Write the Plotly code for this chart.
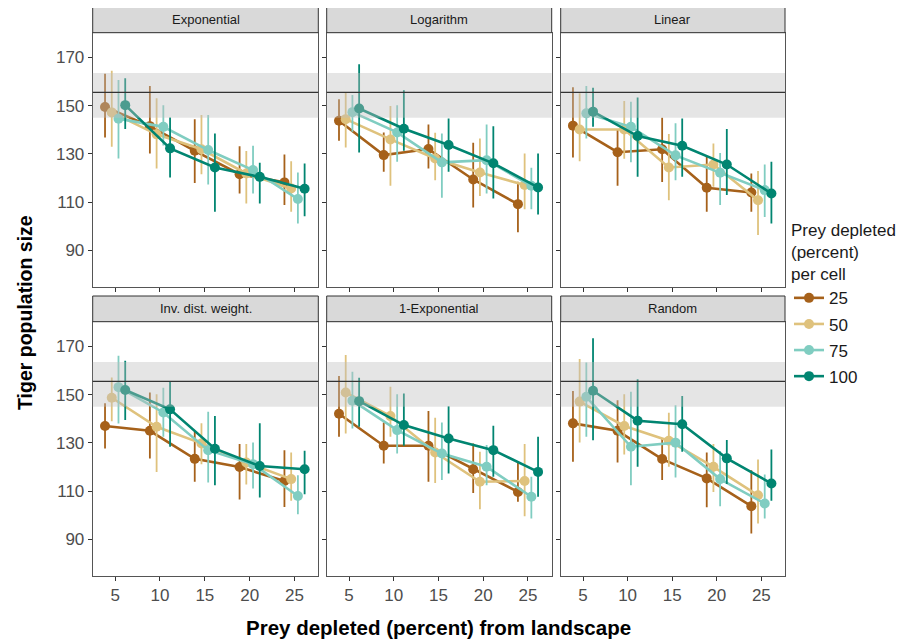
import plotly.graph_objects as go

panels = ["Exponential", "Logarithm", "Linear", "Inv. dist. weight.", "1-Exponential", "Random"]
depletion = [5, 10, 15, 20, 25]
series = ["25", "50", "75", "100"]
colors = {"25": "#a6611a", "50": "#dfc27d", "75": "#80cdc1", "100": "#018571"}

# mean, lower, upper per panel per series (5 values each)
mean = {
    "Exponential": {
        "25": [149.4, 141.5, 131.3, 121.6, 118.2],
        "50": [147.2, 138.1, 131.9, 121.9, 115.7],
        "75": [144.6, 141.2, 131.6, 123.3, 111.3],
        "100": [150.2, 132.3, 124.4, 120.5, 115.6],
    },
    "Logarithm": {
        "25": [143.7, 129.5, 132.0, 119.4, 109.2],
        "50": [144.4, 136.0, 128.1, 122.3, 117.1],
        "75": [147.3, 138.9, 126.5, 127.4, 116.8],
        "100": [148.8, 140.4, 133.7, 126.1, 116.1],
    },
    "Linear": {
        "25": [141.7, 130.7, 131.9, 116.0, 114.0],
        "50": [140.1, 140.1, 124.4, 125.6, 110.8],
        "75": [146.8, 141.2, 129.4, 122.2, 115.0],
        "100": [147.5, 137.4, 133.4, 125.6, 113.6],
    },
    "Inv. dist. weight.": {
        "25": [137.0, 135.0, 123.4, 120.0, 114.2],
        "50": [148.7, 136.7, 129.8, 121.9, 115.0],
        "75": [153.1, 142.6, 127.0, 121.2, 108.0],
        "100": [151.9, 143.9, 127.6, 120.4, 119.1],
    },
    "1-Exponential": {
        "25": [142.1, 128.8, 128.8, 119.1, 109.7],
        "50": [150.9, 141.1, 126.0, 113.9, 114.2],
        "75": [147.5, 135.3, 125.6, 120.1, 107.7],
        "100": [147.3, 137.4, 131.8, 127.0, 118.0],
    },
    "Random": {
        "25": [138.1, 135.0, 123.3, 115.3, 103.8],
        "50": [147.1, 137.0, 130.9, 120.1, 108.3],
        "75": [149.1, 128.4, 130.1, 115.0, 104.9],
        "100": [151.6, 139.2, 137.7, 123.6, 113.2],
    },
}
lower = {
    "Exponential": {
        "25": [136.8, 130.2, 118.0, 113.6, 108.8],
        "50": [133.0, 124.0, 121.6, 109.5, 106.0],
        "75": [128.1, 133.5, 117.3, 113.6, 101.2],
        "100": [140.3, 120.2, 106.0, 109.5, 104.2],
    },
    "Logarithm": {
        "25": [135.5, 122.6, 124.0, 107.8, 97.5],
        "50": [132.7, 116.8, 119.1, 112.6, 107.1],
        "75": [139.2, 126.7, 111.8, 113.6, 107.1],
        "100": [130.6, 131.3, 122.6, 111.5, 104.9],
    },
    "Linear": {
        "25": [128.5, 116.8, 118.4, 106.0, 106.0],
        "50": [127.0, 128.0, 110.8, 116.4, 96.4],
        "75": [136.4, 126.5, 119.1, 108.8, 103.9],
        "100": [141.2, 120.5, 120.5, 113.0, 101.2],
    },
    "Inv. dist. weight.": {
        "25": [127.7, 123.5, 113.9, 106.6, 103.5],
        "50": [139.0, 118.0, 121.2, 112.8, 106.0],
        "75": [138.0, 132.5, 113.6, 111.1, 100.5],
        "100": [139.5, 128.4, 112.5, 107.4, 108.7],
    },
    "1-Exponential": {
        "25": [132.5, 121.5, 113.9, 109.3, 105.6],
        "50": [133.9, 132.5, 113.4, 102.5, 99.6],
        "75": [136.0, 125.6, 114.6, 112.5, 98.7],
        "100": [136.7, 128.8, 117.3, 116.0, 107.7],
    },
    "Random": {
        "25": [122.2, 121.9, 114.6, 103.3, 92.5],
        "50": [130.2, 125.2, 120.1, 109.7, 96.6],
        "75": [132.5, 112.5, 115.7, 103.8, 98.7],
        "100": [131.1, 120.1, 126.3, 113.0, 106.0],
    },
}
upper = {
    "Exponential": {
        "25": [163.2, 158.1, 144.4, 133.2, 129.8],
        "50": [164.4, 153.0, 146.1, 131.2, 127.0],
        "75": [160.6, 150.1, 146.1, 133.4, 122.3],
        "100": [161.3, 145.1, 138.5, 126.3, 126.0],
    },
    "Logarithm": {
        "25": [152.6, 138.9, 142.2, 134.6, 118.5],
        "50": [155.5, 149.8, 138.8, 136.4, 130.2],
        "75": [154.4, 150.2, 138.5, 142.2, 124.3],
        "100": [167.1, 156.4, 144.7, 141.5, 130.2],
    },
    "Linear": {
        "25": [157.6, 140.3, 145.0, 129.1, 121.9],
        "50": [155.1, 151.9, 138.2, 134.3, 122.9],
        "75": [158.1, 151.6, 142.7, 130.4, 125.6],
        "100": [157.4, 153.4, 144.7, 140.3, 126.7],
    },
    "Inv. dist. weight.": {
        "25": [146.4, 150.9, 134.6, 129.5, 127.0],
        "50": [157.1, 150.1, 138.1, 129.5, 126.0],
        "75": [166.1, 152.8, 142.9, 130.2, 116.6],
        "100": [164.0, 155.3, 141.1, 138.1, 126.7],
    },
    "1-Exponential": {
        "25": [157.7, 138.4, 143.2, 129.8, 121.9],
        "50": [166.4, 153.3, 140.4, 126.3, 129.5],
        "75": [159.5, 150.1, 138.4, 129.1, 116.0],
        "100": [157.0, 150.5, 145.2, 137.1, 132.6],
    },
    "Random": {
        "25": [151.5, 147.7, 131.9, 126.0, 118.7],
        "50": [164.8, 150.1, 142.5, 129.5, 123.1],
        "75": [163.3, 151.2, 145.6, 126.6, 116.9],
        "100": [173.3, 156.4, 149.4, 131.2, 127.3],
    },
}
reference_band = [145.0, 163.5]
reference_line = 155.5
y_ticks = [90, 110, 130, 150, 170]

# page body has an 8px margin, so the figure is offset by 8px
OFF = 8
W, H = 912 - 2 * OFF, 641 - OFF
dodge = {"25": -1.125, "50": -0.375, "75": 0.375, "100": 1.125}
FONT = "Liberation Sans, Arial, sans-serif"

col_px = [(92.7, 318.3), (326.7, 551.7), (560.7, 785.0)]
row_px = [(32.7, 286.7), (321.7, 575.7)]
strip_h = 25.7


def fx(px):
    return (px - OFF) / W


def fy(py):
    return 1 - (py - OFF) / H


fig = go.Figure()
layout = dict(
    width=W, height=H, margin=dict(l=0, r=0, t=0, b=0),
    paper_bgcolor="white", plot_bgcolor="white",
    font=dict(family=FONT, color="#4d4d4d"),
    showlegend=True,
)
shapes, annotations = [], []

for i, name in enumerate(panels):
    r, c = divmod(i, 3)
    k = "" if i == 0 else str(i + 1)
    x0p, x1p = col_px[c]
    y0p, y1p = row_px[r]
    xd = [fx(x0p), fx(x1p)]
    yd = [fy(y1p), fy(y0p)]
    layout["xaxis" + k] = dict(
        domain=xd, anchor="y" + k, range=[2.5, 27.65],
        tickvals=depletion, ticktext=[str(v) for v in depletion],
        showticklabels=(r == 1), ticks="outside", ticklen=4, tickcolor="#333",
        showgrid=False, zeroline=False, showline=True, mirror=True,
        linecolor="#555", linewidth=1,
        tickfont=dict(size=17, color="#4d4d4d", family=FONT),
    )
    layout["yaxis" + k] = dict(
        domain=yd, anchor="x" + k, range=[75, 180.2],
        tickvals=y_ticks, showticklabels=(c == 0), ticks="outside", ticklen=4,
        tickcolor="#333", showgrid=False, zeroline=False, showline=True,
        mirror=True, linecolor="#555", linewidth=1,
        tickfont=dict(size=17, color="#4d4d4d", family=FONT),
    )
    for s in series:
        m = mean[name][s]
        lo = lower[name][s]
        hi = upper[name][s]
        fig.add_trace(go.Scatter(
            x=[d + dodge[s] for d in depletion], y=m,
            xaxis="x" + k, yaxis="y" + k,
            mode="lines+markers", name=s, legendgroup=s,
            showlegend=(i == 0),
            line=dict(color=colors[s], width=2.6),
            marker=dict(color=colors[s], size=10),
            error_y=dict(type="data", symmetric=False,
                         array=[h - v for h, v in zip(hi, m)],
                         arrayminus=[v - l for v, l in zip(m, lo)],
                         color=colors[s], thickness=1.8, width=0),
        ))
    # grey reference band drawn above data
    shapes.append(dict(type="rect", xref="x" + k + " domain", yref="y" + k,
                       x0=0, x1=1, y0=reference_band[0], y1=reference_band[1],
                       fillcolor="rgba(190,190,190,0.4)", line=dict(width=0),
                       layer="above"))
    shapes.append(dict(type="line", xref="x" + k + " domain", yref="y" + k,
                       x0=0, x1=1, y0=reference_line, y1=reference_line,
                       line=dict(color="#333", width=1.1), layer="above"))
    # strip
    shapes.append(dict(type="rect", xref="paper", yref="paper",
                       x0=xd[0], x1=xd[1], y0=yd[1], y1=fy(y0p - strip_h),
                       fillcolor="#d9d9d9", line=dict(color="#333", width=1)))
    annotations.append(dict(text=name, xref="paper", yref="paper",
                            x=(xd[0] + xd[1]) / 2, y=fy(y0p - strip_h / 2),
                            xanchor="center", yanchor="middle", showarrow=False,
                            font=dict(size=13, color="#1a1a1a", family=FONT)))

annotations.append(dict(text="<b>Prey depleted (percent) from landscape</b>",
                        xref="paper", yref="paper",
                        x=fx((col_px[0][0] + col_px[2][1]) / 2), y=fy(627),
                        xanchor="center", yanchor="middle", showarrow=False,
                        font=dict(size=20.5, color="black", family=FONT)))
annotations.append(dict(text="<b>Tiger population size</b>",
                        xref="paper", yref="paper",
                        x=fx(25), y=fy(313), textangle=-90,
                        xanchor="center", yanchor="middle", showarrow=False,
                        font=dict(size=19.5, color="black", family=FONT)))

layout["shapes"] = shapes
layout["annotations"] = annotations
layout["legend"] = dict(
    title=dict(text="Prey depleted<br>(percent)<br>per cell",
               font=dict(size=17, color="#1a1a1a", family=FONT)),
    font=dict(size=17, color="#1a1a1a", family=FONT),
    x=fx(789), y=fy(214), xanchor="left", yanchor="top",
    tracegroupgap=1, itemwidth=30, bgcolor="rgba(0,0,0,0)",
)
fig.update_layout(**layout)
fig.write_html("out.html")
